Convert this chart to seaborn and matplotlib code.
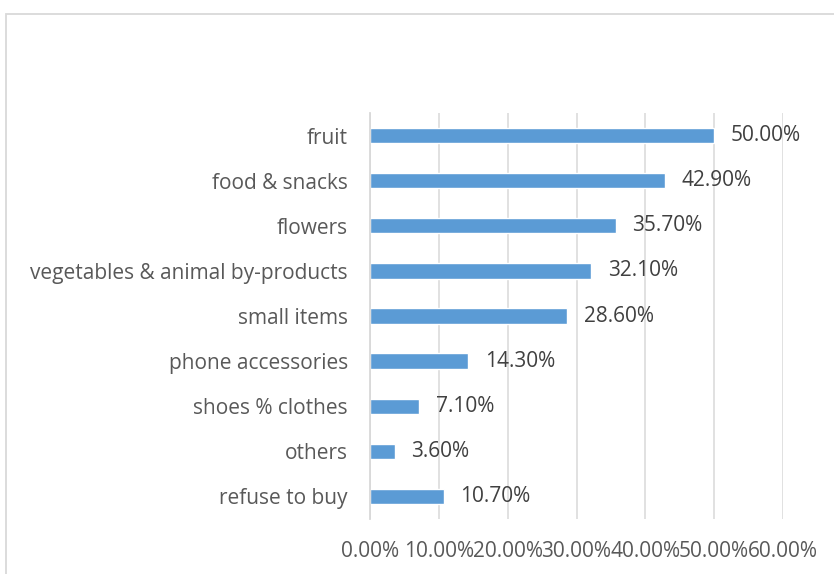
import matplotlib
matplotlib.use("Agg")
import matplotlib.pyplot as plt
import matplotlib.ticker as mticker
from matplotlib.patches import Rectangle
import seaborn as sns
import pandas as pd

categories = ["fruit", "food & snacks", "flowers", "vegetables & animal by-products",
              "small items", "phone accessories", "shoes % clothes", "others", "refuse to buy"]
values = [0.50, 0.429, 0.357, 0.321, 0.286, 0.143, 0.071, 0.036, 0.107]
x_ticks = [0.0, 0.1, 0.2, 0.3, 0.4, 0.5, 0.6]

df = pd.DataFrame({"category": categories, "value": values})

sns.set_theme(style="white")
plt.rcParams["font.family"] = ["Open Sans", "DejaVu Sans"]

W, H = 834, 574
fig = plt.figure(figsize=(W / 100, H / 100), dpi=100)
ax = fig.add_axes([370 / W, (H - 519) / H, (783 - 370) / W, (519 - 113) / H])

sns.barplot(data=df, y="category", x="value", orient="h", color="#5B9BD5",
            width=0.34, ax=ax, saturation=1, order=categories)

ax.set_xlim(0, 0.6)
ax.set_ylim(len(categories) - 0.5, -0.5)
ax.set_xticks(x_ticks)
ax.xaxis.set_major_formatter(mticker.FuncFormatter(lambda v, p: f"{v*100:.2f}%"))
ax.set_xlabel("")
ax.set_ylabel("")
ax.grid(axis="x", color="#D9D9D9", linewidth=1.1)
ax.set_axisbelow(True)
for s in ["top", "right", "bottom"]:
    ax.spines[s].set_visible(False)
ax.spines["left"].set_color("#D9D9D9")
ax.spines["left"].set_linewidth(1.3)
ax.tick_params(axis="x", length=0, pad=16, labelsize=15, labelcolor="#595959")
ax.tick_params(axis="y", length=0, pad=16, labelsize=15, labelcolor="#595959")

for i, v in enumerate(values):
    ax.annotate(f"{v*100:.2f}%", xy=(v, i), xytext=(12, 0), textcoords="offset points",
                va="center", ha="left", fontsize=15, color="#404040")

fig.patches.append(Rectangle((5.5 / W, -0.1), 1.2, (H - 14.5) / H + 0.1,
                             transform=fig.transFigure, fill=False,
                             edgecolor="#D9D9D9", linewidth=1.3))

fig.savefig("out.png", dpi=100, facecolor="white")
